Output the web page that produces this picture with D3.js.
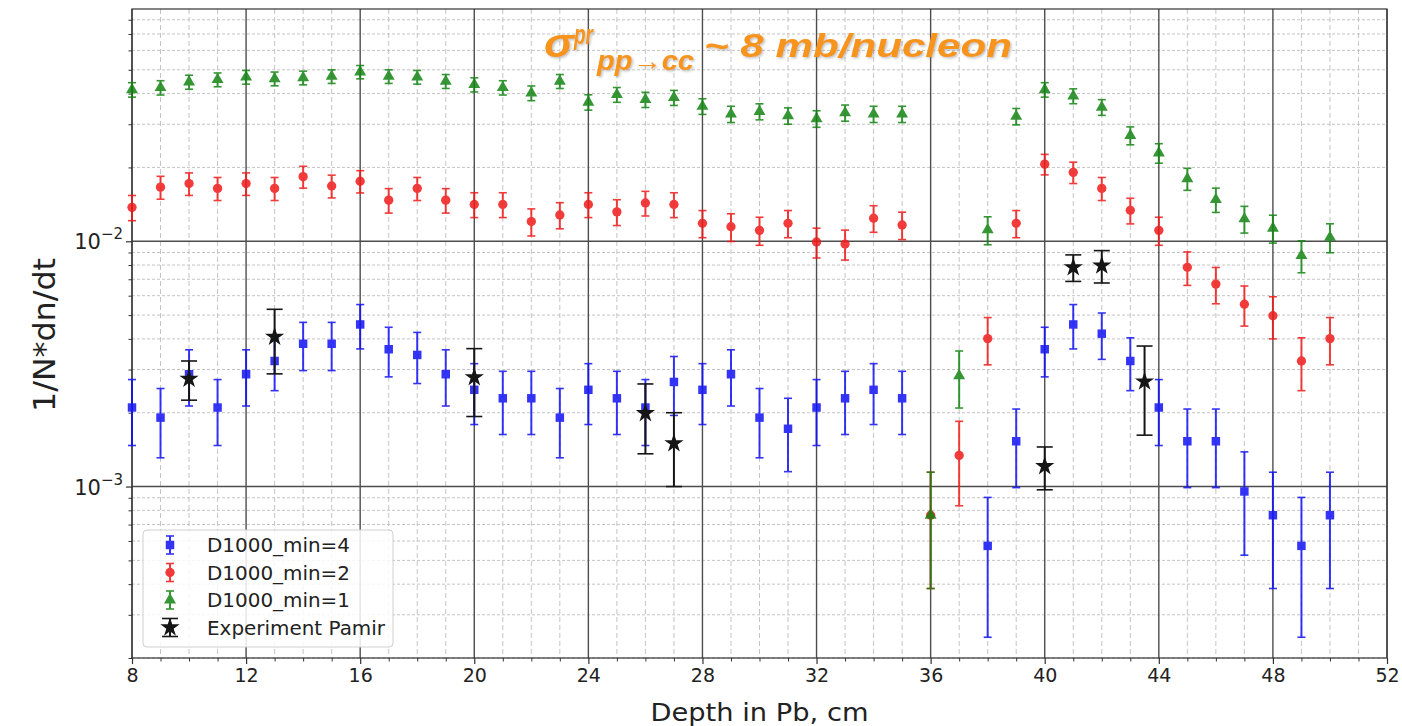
<!DOCTYPE html>
<html>
<head>
<meta charset="utf-8">
<script src="https://cdn.jsdelivr.net/npm/d3@7"></script>
<style>
  body { margin: 0; background: #fff; }
  svg { display: block; font-family: "DejaVu Sans", sans-serif; }
</style>
</head>
<body>
<svg width="1402" height="726"></svg>
<script>
// Depth values (cm of Pb) for each series
const depthMin4 = [8, 9, 10, 11, 12, 13, 14, 15, 16, 17, 18, 19, 20, 21, 22, 23, 24, 25, 26, 27, 28, 29, 30, 31, 32, 33, 34, 35,
  38, 39, 40, 41, 42, 43, 44, 45, 46, 47, 48, 49, 50];
const depthMin2 = [8, 9, 10, 11, 12, 13, 14, 15, 16, 17, 18, 19, 20, 21, 22, 23, 24, 25, 26, 27, 28, 29, 30, 31, 32, 33, 34, 35,
  36, 37, 38, 39, 40, 41, 42, 43, 44, 45, 46, 47, 48, 49, 50];
const depthMin1 = depthMin2;
const depthPamir = [10, 13, 20, 26, 27, 40, 41, 42, 43.5];

// 1/N*dn/dt values and their errors
const valMin4 = [0.0021, 0.00191, 0.00287, 0.0021, 0.00287, 0.00325, 0.00382, 0.00382, 0.00458, 0.00363, 0.00344, 0.00287,
  0.00248, 0.00229, 0.00229, 0.00191, 0.00248, 0.00229, 0.0021, 0.00267, 0.00248, 0.00287, 0.00191, 0.00172, 0.0021,
  0.00229, 0.00248, 0.00229,
  0.000573, 0.00153, 0.00363, 0.00458, 0.0042, 0.00325, 0.0021, 0.00153, 0.00153, 0.000955, 0.000764, 0.000573, 0.000764];
const errMin4 = [0.00063, 0.0006, 0.00074, 0.00063, 0.00074, 0.00079, 0.00085, 0.00085, 0.00094, 0.00083, 0.00081, 0.00074,
  0.00069, 0.00066, 0.00066, 0.0006, 0.00069, 0.00066, 0.00063, 0.00072, 0.00069, 0.00074, 0.0006, 0.00057, 0.00063,
  0.00066, 0.00069, 0.00066,
  0.00033, 0.00054, 0.00083, 0.00094, 0.0009, 0.00079, 0.00063, 0.00054, 0.00054, 0.00043, 0.00038, 0.00033, 0.00038];

const valMin2 = [0.01375, 0.01662, 0.01719, 0.01643, 0.01719, 0.01643, 0.01834, 0.01681, 0.01757, 0.01471, 0.01643, 0.01471,
  0.01413, 0.01413, 0.01203, 0.0128, 0.01413, 0.01318, 0.01433, 0.01413, 0.01184, 0.01146, 0.01108, 0.01184, 0.00993,
  0.00974, 0.01242, 0.01165,
  0.000764, 0.00134, 0.00401, 0.01184, 0.02063, 0.0191, 0.01643, 0.01337, 0.01108, 0.00783, 0.00669, 0.00554, 0.00497,
  0.00325, 0.00401];
const errMin2 = [0.00162, 0.00178, 0.00181, 0.00177, 0.00181, 0.00177, 0.00187, 0.00179, 0.00183, 0.00168, 0.00177, 0.00168,
  0.00164, 0.00164, 0.00152, 0.00156, 0.00164, 0.00159, 0.00165, 0.00164, 0.0015, 0.00148, 0.00145, 0.0015, 0.00138,
  0.00136, 0.00154, 0.00149,
  0.00038, 0.000505, 0.000875, 0.0015, 0.00198, 0.00191, 0.00177, 0.0016, 0.00145, 0.00122, 0.00113, 0.00103, 0.00097,
  0.00079, 0.000875];

const valMin1 = [0.0415, 0.0423, 0.0446, 0.0456, 0.0467, 0.046, 0.0464, 0.047, 0.049, 0.047, 0.0467, 0.0449, 0.0435, 0.0423,
  0.0402, 0.0449, 0.0369, 0.0396, 0.0378, 0.0385, 0.0355, 0.033, 0.0338, 0.0325, 0.0316, 0.0334, 0.033, 0.033,
  0.000764, 0.00283, 0.01113, 0.0323, 0.0415, 0.0391, 0.0352, 0.027, 0.0229, 0.01798, 0.01479, 0.01234, 0.0113,
  0.00874, 0.01038];
const errMin1 = [0.00281, 0.00284, 0.00292, 0.00295, 0.00299, 0.00297, 0.00298, 0.003, 0.00306, 0.003, 0.00299, 0.00293,
  0.00288, 0.00284, 0.00277, 0.00293, 0.00265, 0.00275, 0.00269, 0.00271, 0.0026, 0.00251, 0.00254, 0.00249, 0.00245,
  0.00253, 0.00251, 0.00251,
  0.00038, 0.00074, 0.00145, 0.00248, 0.00281, 0.00273, 0.00259, 0.00227, 0.00209, 0.00185, 0.00168, 0.00154, 0.00147,
  0.0013, 0.0014];

const valPamir = [0.00275, 0.00408, 0.00279, 0.00199, 0.0015, 0.00121, 0.00783, 0.00796, 0.00268];
const errPamir = [0.0005, 0.0012, 0.00086, 0.00063, 0.0005, 0.00024, 0.00097, 0.0012, 0.00106];

const xTicks = [8, 12, 16, 20, 24, 28, 32, 36, 40, 44, 48, 52];
const yTicks = [1e-3, 1e-2];
const legendLabels = ["D1000_min=4", "D1000_min=2", "D1000_min=1", "Experiment Pamir"];

const series = [
  {x: depthMin4, v: valMin4, e: errMin4, color: "#1010f5", symbol: d3.symbolSquare, size: 72, cap: 4},
  {x: depthMin2, v: valMin2, e: errMin2, color: "#f01818", symbol: d3.symbolCircle, size: 68, cap: 4},
  {x: depthMin1, v: valMin1, e: errMin1, color: "#128412", symbol: d3.symbolTriangle, size: 62, cap: 4},
  {x: depthPamir, v: valPamir, e: errPamir, color: "#151515", symbol: d3.symbolStar, size: 115, cap: 8}
];

const svg = d3.select("svg");
const plot = {left: 132, right: 1387, top: 9, bottom: 658};

const x = d3.scaleLinear().domain([8, 52]).range([plot.left, plot.right]);
const y = d3.scaleLog().domain([2e-4, 0.0885]).range([plot.bottom, plot.top]);

// Minor grid
const grid = svg.append("g");
const minorX = d3.range(8, 53).filter(d => d % 4 !== 0);
grid.selectAll(".vminor").data(minorX).enter().append("line")
    .attr("x1", d => x(d)).attr("x2", d => x(d))
    .attr("y1", plot.top).attr("y2", plot.bottom)
    .attr("stroke", "#c4c4c4").attr("stroke-width", 1)
    .attr("stroke-dasharray", "5,3");
const minorY = y.ticks().filter(d => !yTicks.some(t => Math.abs(t - d) / t < 1e-6));
grid.selectAll(".hminor").data(minorY).enter().append("line")
    .attr("x1", plot.left).attr("x2", plot.right)
    .attr("y1", d => y(d)).attr("y2", d => y(d))
    .attr("stroke", "#c4c4c4").attr("stroke-width", 1)
    .attr("stroke-dasharray", "3,2");

// Major grid
grid.selectAll(".vmajor").data(xTicks).enter().append("line")
    .attr("x1", d => x(d)).attr("x2", d => x(d))
    .attr("y1", plot.top).attr("y2", plot.bottom)
    .attr("stroke", "#4d4d4d").attr("stroke-width", 1.4);
grid.selectAll(".hmajor").data(yTicks).enter().append("line")
    .attr("x1", plot.left).attr("x2", plot.right)
    .attr("y1", d => y(d)).attr("y2", d => y(d))
    .attr("stroke", "#4d4d4d").attr("stroke-width", 1.4);

// Frame
svg.append("rect")
    .attr("x", plot.left).attr("y", plot.top)
    .attr("width", plot.right - plot.left).attr("height", plot.bottom - plot.top)
    .attr("fill", "none").attr("stroke", "#333").attr("stroke-width", 1.2);

// X axis
const xAxis = svg.append("g").attr("transform", `translate(0,${plot.bottom})`)
    .call(d3.axisBottom(x).tickValues(xTicks).tickSize(6).tickPadding(5).tickFormat(d3.format("d")));
xAxis.select(".domain").remove();
xAxis.selectAll("text").attr("font-size", 19).attr("fill", "#222").attr("font-family", "DejaVu Sans");
xAxis.selectAll("line").attr("stroke", "#333").attr("stroke-width", 1.2);
svg.append("g").attr("transform", `translate(0,${plot.bottom})`)
    .call(d3.axisBottom(x).tickValues(minorX).tickSize(3.5).tickFormat(""))
    .call(g => g.select(".domain").remove())
    .selectAll("line").attr("stroke", "#333");

// Y axis
const yAxis = svg.append("g").attr("transform", `translate(${plot.left},0)`)
    .call(d3.axisLeft(y).tickValues(yTicks).tickSize(6).tickFormat(""));
yAxis.select(".domain").remove();
yAxis.selectAll("line").attr("stroke", "#333").attr("stroke-width", 1.2);
svg.append("g").attr("transform", `translate(${plot.left},0)`)
    .call(d3.axisLeft(y).tickValues(minorY).tickSize(3.5).tickFormat(""))
    .call(g => g.select(".domain").remove())
    .selectAll("line").attr("stroke", "#333");

const yLab = svg.append("g").selectAll("text").data(yTicks).enter().append("text")
    .attr("x", 123).attr("y", d => y(d) + 8)
    .attr("text-anchor", "end").attr("font-size", 21).attr("fill", "#222");
yLab.append("tspan").text("10");
yLab.append("tspan").attr("dy", -10).attr("font-size", 15).text(d => "\u2212" + Math.round(-Math.log10(d)));

// Axis titles
svg.append("text")
    .attr("x", x(30)).attr("y", 721)
    .attr("text-anchor", "middle").attr("font-size", 25).attr("fill", "#222")
    .attr("textLength", 218).attr("lengthAdjust", "spacingAndGlyphs")
    .text("Depth in Pb, cm");
svg.append("text")
    .attr("transform", "translate(55,335) rotate(-90)")
    .attr("text-anchor", "middle").attr("font-size", 30).attr("fill", "#222")
    .attr("textLength", 154).attr("lengthAdjust", "spacingAndGlyphs")
    .text("1/N*dn/dt");

// Error bars and markers
function drawErrorBar(g, cx, yTop, yBot, cy, s) {
  g.append("line").attr("x1", cx).attr("x2", cx).attr("y1", yTop).attr("y2", yBot)
      .attr("stroke", s.color).attr("stroke-width", 2);
  [yTop, yBot].forEach(yy => {
    g.append("line").attr("x1", cx - s.cap).attr("x2", cx + s.cap).attr("y1", yy).attr("y2", yy)
        .attr("stroke", s.color).attr("stroke-width", 1.6);
  });
  g.append("path")
      .attr("d", d3.symbol().type(s.symbol).size(s.size)())
      .attr("transform", `translate(${cx},${cy})`)
      .attr("fill", s.color);
}

const marks = svg.append("g");
series.forEach((s, i) => {
  const g = marks.append("g").attr("opacity", i < 3 ? 0.85 : 1);
  s.x.forEach((d, j) => {
    const v = s.v[j], e = s.e[j];
    drawErrorBar(g, x(d), y(v + e), y(Math.max(v - e, 2e-4)), y(v), s);
  });
});

// Legend
const legend = svg.append("g");
legend.append("rect")
    .attr("x", 143).attr("y", 530).attr("width", 250).attr("height", 117).attr("rx", 4)
    .attr("fill", "#fff").attr("fill-opacity", 0.85)
    .attr("stroke", "#d0d0d0").attr("stroke-width", 1);
const legendWidths = [143, 143, 143, 178];
series.forEach((s, i) => {
  const cy = 545 + i * 27.5;
  const g = legend.append("g").attr("opacity", i < 3 ? 0.85 : 1);
  drawErrorBar(g, 170, cy - 9, cy + 9, cy, s);
  legend.append("text")
      .attr("x", 207).attr("y", cy + 7)
      .attr("font-size", 19).attr("fill", "#222")
      .attr("textLength", legendWidths[i]).attr("lengthAdjust", "spacingAndGlyphs")
      .text(legendLabels[i]);
});

// Title annotation
const defs = svg.append("defs");
defs.append("filter").attr("id", "shadow")
    .append("feDropShadow").attr("dx", 1.5).attr("dy", 1.5).attr("stdDeviation", 1)
    .attr("flood-color", "#888").attr("flood-opacity", 0.5);
const title = svg.append("g")
    .attr("fill", "#f7941d").attr("font-family", "Liberation Sans, Arial, sans-serif")
    .attr("font-weight", "bold").attr("font-style", "italic")
    .attr("filter", "url(#shadow)");
title.append("text").attr("x", 544).attr("y", 57).attr("font-size", 40)
    .attr("textLength", 30).attr("lengthAdjust", "spacingAndGlyphs").text("\u03c3");
title.append("text").attr("x", 574).attr("y", 44).attr("font-size", 27)
    .attr("textLength", 19).attr("lengthAdjust", "spacingAndGlyphs").text("pr");
title.append("text").attr("x", 597).attr("y", 70).attr("font-size", 27)
    .attr("textLength", 97).attr("lengthAdjust", "spacingAndGlyphs").text("pp\u2192cc");
title.append("text").attr("x", 704).attr("y", 57).attr("font-size", 33)
    .attr("textLength", 308).attr("lengthAdjust", "spacingAndGlyphs").text("~ 8 mb/nucleon");
</script>
</body>
</html>
